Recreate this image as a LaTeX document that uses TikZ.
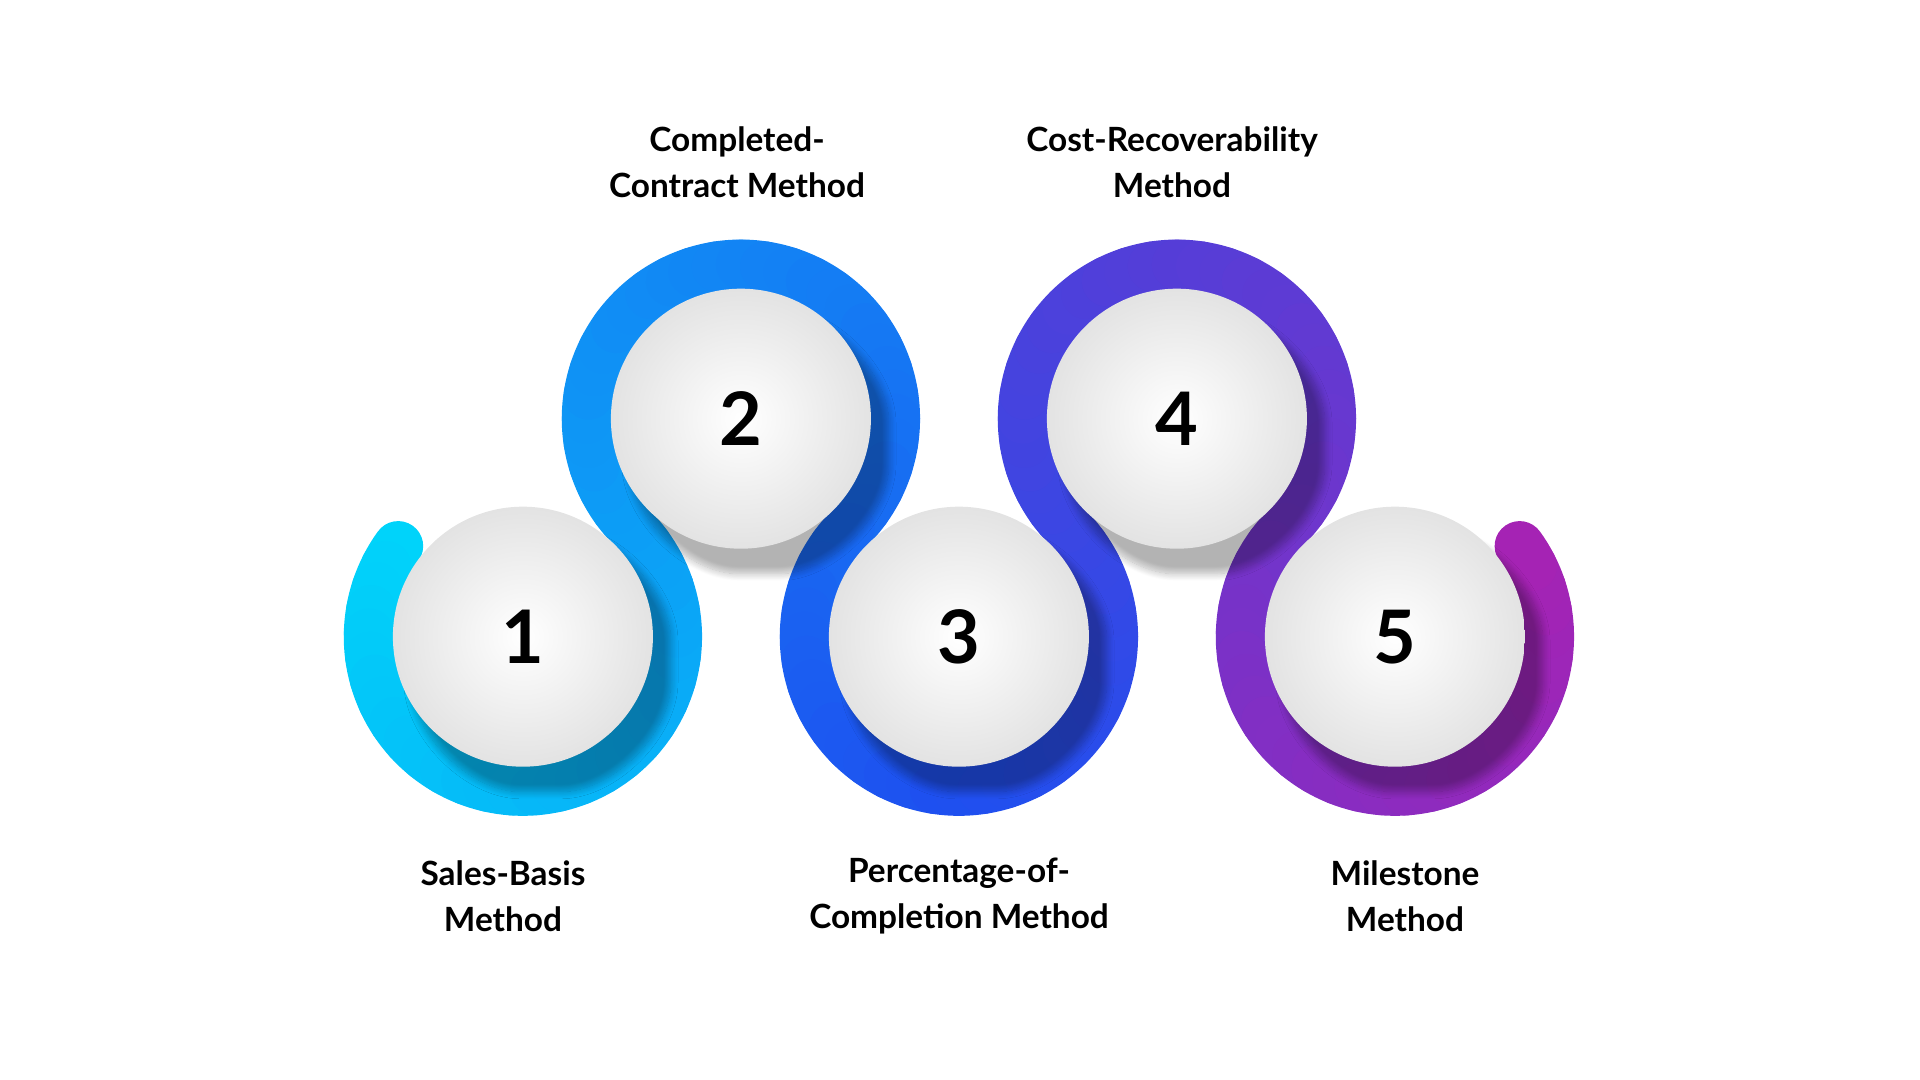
\documentclass[tikz,border=0pt]{standalone}
\usepackage{fontspec}
\setmainfont{Lato}
\usetikzlibrary{shadows,shadows.blur}
\definecolor{cA}{RGB}{0,212,250}
\definecolor{cB}{RGB}{30,80,240}
\definecolor{cC}{RGB}{165,35,180}
\tikzset{
  ball/.style={circle,minimum size=2.6cm,inner sep=0pt,shading=radial,inner color=white,outer color=gray!22,
     blur shadow={shadow xshift=0.18cm,shadow yshift=-0.25cm,shadow blur steps=12,shadow blur extra rounding=0.2cm,shadow opacity=30},
     font=\bfseries\fontsize{21}{21}\selectfont},
  lbl/.style={align=center,font=\bfseries\fontsize{9.5}{13}\selectfont}
}
\begin{document}
\begin{tikzpicture}
\useasboundingbox (0,0) rectangle (19.2,10.8);
\def\r{1.5415}
\foreach \k/\cx/\cy/\a/\b in {1/5.229/4.433/144/405, 2/7.409/6.613/225/-45, 3/9.589/4.433/135/405, 4/11.769/6.613/225/-45, 5/13.949/4.433/135/396}{
  \foreach \i in {1,...,30}{
    \pgfmathsetmacro{\aa}{\a+(\b-\a)*(\i-1)/30}
    \pgfmathsetmacro{\ab}{\a+(\b-\a)*\i/30}
    \pgfmathsetmacro{\t}{(\k-1+\i/30)/5*100}
    \pgfmathparse{\t<50?1:0}
    \ifnum\pgfmathresult=1
      \pgfmathsetmacro{\p}{int(\t*2)}
      \colorlet{segc}{cB!\p!cA}
    \else
      \pgfmathsetmacro{\p}{int((\t-50)*2)}
      \colorlet{segc}{cC!\p!cB}
    \fi
    \draw[segc,line width=0.5cm,line cap=round] ({\cx+\r*cos(\aa)},{\cy+\r*sin(\aa)}) arc[start angle=\aa,end angle=\ab,radius=\r];
  }
}
\node[ball] (n1) at (5.229,4.433) {1};
\node[ball] (n2) at (7.409,6.613) {2};
\node[ball] (n3) at (9.589,4.433) {3};
\node[ball] (n4) at (11.769,6.613) {4};
\node[ball] (n5) at (13.949,4.433) {5};
\node[lbl] (l1) at (5.03,1.84) {Sales-Basis\\Method};
\node[lbl] (l2) at (7.37,9.18) {Completed-\\Contract Method};
\node[lbl] (l3) at (9.59,1.84) {Percentage-of-\\Completion Method};
\node[lbl] (l4) at (11.72,9.18) {Cost-Recoverability\\Method};
\node[lbl] (l5) at (14.05,1.84) {Milestone\\Method};
\end{tikzpicture}
\end{document}
